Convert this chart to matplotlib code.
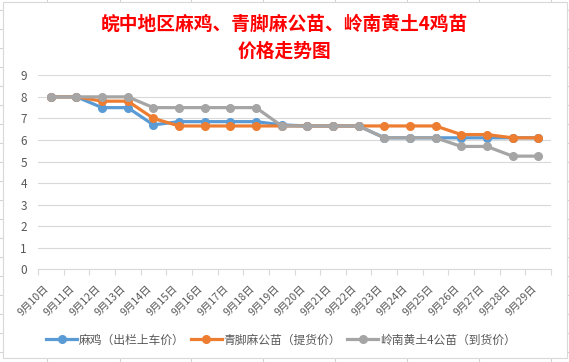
import matplotlib
matplotlib.use('Agg')
import matplotlib.pyplot as plt
from matplotlib.lines import Line2D
from matplotlib.patches import Rectangle

plt.rcParams['font.family'] = ['Noto Sans CJK SC', 'DejaVu Sans']

# data
dates = ['9月%d日' % d for d in range(10, 30)]
maji = [8, 8, 7.5, 7.5, 6.7, 6.85, 6.85, 6.85, 6.85, 6.7,
        6.65, 6.65, 6.65, 6.1, 6.1, 6.1, 6.1, 6.1, 6.1, 6.1]
qingjiao = [8, 8, 7.8, 7.8, 7.0, 6.65, 6.65, 6.65, 6.65, 6.65,
            6.65, 6.65, 6.65, 6.65, 6.65, 6.65, 6.25, 6.25, 6.1, 6.1]
lingnan = [8, 8, 8, 8, 7.5, 7.5, 7.5, 7.5, 7.5, 6.65,
           6.65, 6.65, 6.65, 6.1, 6.1, 6.1, 5.7, 5.7, 5.25, 5.25]
names = ['麻鸡（出栏上车价）', '青脚麻公苗（提货价）', '岭南黄土4公苗（到货价）']
colors = ['#5B9BD5', '#ED7D31', '#A5A5A5']

W, H = 569, 362
fig = plt.figure(figsize=(W / 100, H / 100), dpi=100)

# spreadsheet cells behind the chart
px = lambda x: x / W
py = lambda y: 1 - y / H
for x in [47, 120, 191, 263, 335, 407, 479, 551]:
    fig.add_artist(Line2D([px(x), px(x)], [0, 1], color='#d4d4d4', lw=0.8, zorder=-3))
for y in range(10, H, 19):
    fig.add_artist(Line2D([0, 1], [py(y), py(y)], color='#d4d4d4', lw=0.8, zorder=-3))
fig.add_artist(Rectangle((px(3), py(358)), px(564), 356 / H, facecolor='white',
                         edgecolor='#d9d9d9', lw=0.8, zorder=-2))

ax = fig.add_axes([px(38), py(269.3), px(513), (269.3 - 75.3) / H])
ax.set_facecolor('none')

x = range(len(dates))
for vals, c, n in zip([maji, qingjiao, lingnan], colors, names):
    ax.plot(x, vals, '-o', color=c, lw=2.3, markersize=5.5, label=n)

ax.set_xlim(-0.5, len(dates) - 0.5)
ax.set_ylim(0, 9)
ax.set_yticks(range(10))
ax.grid(axis='y', color='#d9d9d9', lw=0.8)
ax.set_axisbelow(True)
for s in ['top', 'right', 'left']:
    ax.spines[s].set_visible(False)
ax.spines['bottom'].set_color('#d9d9d9')
ax.tick_params(axis='y', length=0, pad=8, labelsize=8.5, labelcolor='#595959')

# ticks sit between categories, labels on the categories
ax.set_xticks([i - 0.5 for i in range(len(dates) + 1)])
ax.set_xticklabels([])
ax.tick_params(axis='x', which='major', length=4, color='#d9d9d9')
ax.set_xticks(list(x), minor=True)
ax.set_xticklabels(dates, minor=True, rotation=45, ha='right')
ax.tick_params(axis='x', which='minor', length=0, pad=10, labelsize=7.6, labelcolor='#595959')

fig.text(px(284), py(24), '皖中地区麻鸡、青脚麻公苗、岭南黄土4鸡苗', color='red',
         fontsize=13.5, fontweight='bold', ha='center', va='center')
fig.text(px(284), py(51), '价格走势图', color='red',
         fontsize=13.5, fontweight='bold', ha='center', va='center')

leg = fig.legend(loc='center', bbox_to_anchor=(px(281), py(340)), ncol=3, frameon=False,
                 fontsize=8.5, handlelength=2.6, handletextpad=0.15, columnspacing=0.55)
for t in leg.get_texts():
    t.set_color('#595959')

fig.savefig('out.png', dpi=100)
